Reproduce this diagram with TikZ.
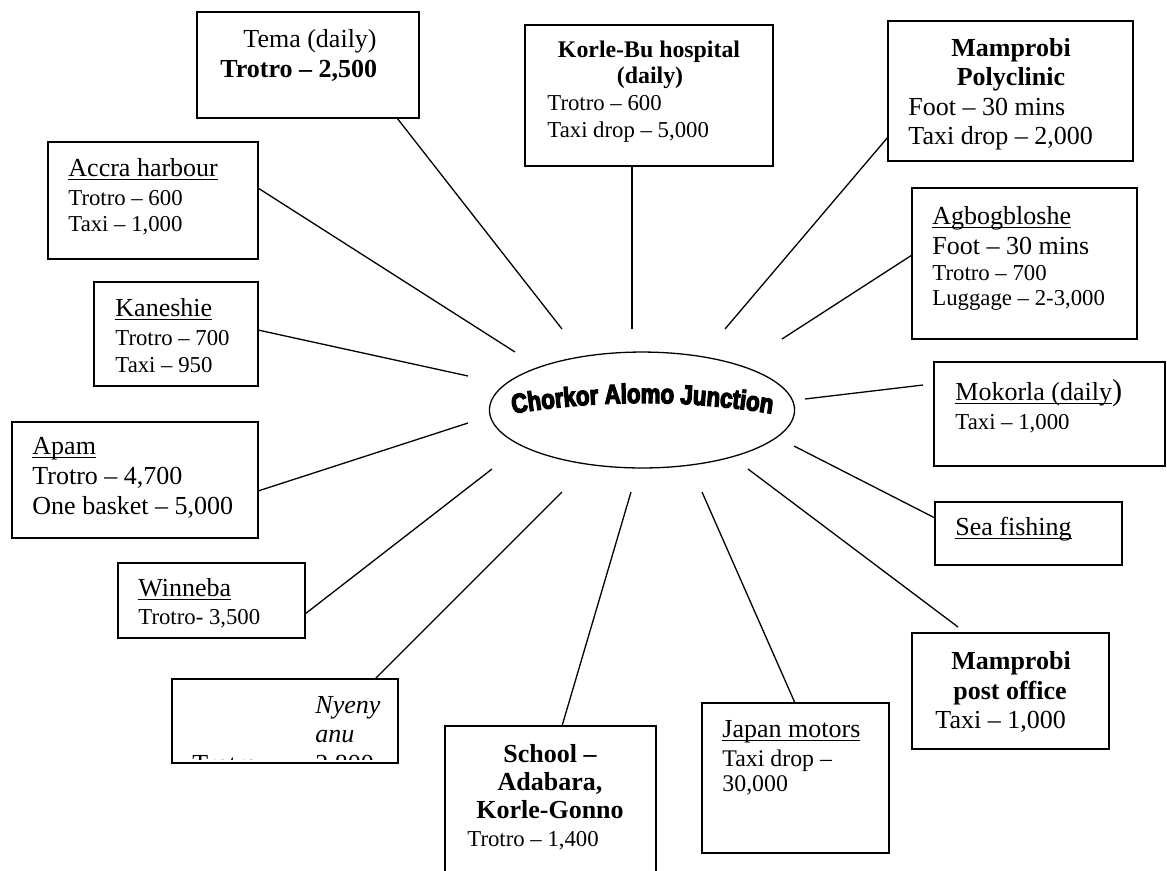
\documentclass[tikz,border=0pt]{standalone}
\usepackage{fontspec}
\setmainfont{Liberation Serif}
\newfontfamily\hubfont{Liberation Sans}[BoldFeatures={FakeBold=4.5,FakeStretch=0.82}]
\usetikzlibrary{shapes.geometric,decorations.text,fit}
% underline at a fixed depth below the baseline
\newcommand\undl[1]{\setbox0\hbox{#1}\rlap{\rule[-1.9pt]{\wd0}{0.55pt}}\box0}
\tikzset{
  destbox/.style={draw,line width=0.8pt,inner sep=0pt},
  spoke/.style={line width=0.6pt},
  txbig/.style={anchor=base west,inner sep=0pt,font=\fontsize{12}{14}\selectfont},
  txsmall/.style={anchor=base west,inner sep=0pt,font=\fontsize{10.5}{12.5}\selectfont},
  txhead/.style={anchor=base,inner sep=0pt,font=\fontsize{12}{14}\selectfont\bfseries},
}
\begin{document}
\begin{tikzpicture}[x=0.4615pt,y=-0.4615pt]
\useasboundingbox (0,0) rectangle (1167,870);

% central junction
\node[draw,ellipse,line width=0.6pt,inner sep=0pt,minimum width=140.8pt,minimum height=53.5pt] (hub) at (642,410) {};
\path[decorate,decoration={text along path,text align=center,
  text={|\hubfont\bfseries\fontsize{12.5}{14}\selectfont|Chorkor Alomo Junction}}]
  (505,415) .. controls (596,399) and (688,399) .. (780,415);

% Tema
\node[destbox,fit={(197,12) (419,118)}] (tema) {};
\node[txbig] (tema-a) at (243,47) {Tema (daily)};
\node[txbig,font=\fontsize{12}{14}\selectfont\bfseries] (tema-b) at (220,77) {Trotro -- 2,500};
\coordinate (tema-out) at (397,118);
\coordinate (tema-in) at (562,329);

% Korle-Bu hospital
\node[destbox,fit={(525,25) (773,166)}] (korlebu) {};
\node[txhead,font=\fontsize{11}{13}\selectfont\bfseries] (kb-a) at (649,57) {Korle-Bu hospital};
\node[txhead,font=\fontsize{11}{13}\selectfont\bfseries] (kb-b) at (650,83) {(daily)};
\node[txsmall] (kb-c) at (547,110) {Trotro -- 600};
\node[txsmall] (kb-d) at (547,137) {Taxi drop -- 5,000};
\coordinate (kb-out) at (632,166);
\coordinate (kb-in) at (632,329);

% Mamprobi Polyclinic
\node[destbox,fit={(888,21) (1133,161)}] (polyclinic) {};
\node[txhead] (pc-a) at (1011,56) {Mamprobi};
\node[txhead] (pc-b) at (1011,85) {Polyclinic};
\node[txbig] (pc-c) at (908,115) {Foot -- 30 mins};
\node[txbig] (pc-d) at (908,144) {Taxi drop -- 2,000};
\coordinate (pc-out) at (888,137);
\coordinate (pc-in) at (725,329);

% Agbogbloshe
\node[destbox,fit={(912,188) (1137,339)}] (agbog) {};
\node[txbig] (ag-a) at (932,224) {\undl{Agbogbloshe}};
\node[txbig] (ag-b) at (932,254) {Foot -- 30 mins};
\node[txsmall] (ag-c) at (932,280) {Trotro -- 700};
\node[txsmall] (ag-d) at (932,305) {Luggage -- 2-3,000};
\coordinate (ag-out) at (912,255);
\coordinate (ag-in) at (782,339);

% Mokorla
\node[destbox,fit={(934,362) (1165,466)}] (mokorla) {};
\node[txbig] (mk-a) at (955,400) {\undl{Mokorla (daily}{\fontsize{14}{14}\selectfont)}};
\node[txsmall] (mk-b) at (955,429) {Taxi -- 1,000};
\coordinate (mk-out) at (923,385);
\coordinate (mk-in) at (805,399);

% Sea fishing
\node[destbox,fit={(935,502) (1122,565)}] (sea) {};
\node[txbig] (sea-a) at (955,535) {\undl{Sea fishing}};
\coordinate (sea-out) at (935,518);
\coordinate (sea-in) at (794,446);

% Mamprobi post office
\node[destbox,fit={(912,633) (1109,749)}] (postoffice) {};
\node[txhead] (po-a) at (1011,669) {Mamprobi};
\node[txhead] (po-b) at (1010,699) {post office};
\node[txbig] (po-c) at (935,728) {Taxi -- 1,000};
\coordinate (po-out) at (958,627);
\coordinate (po-in) at (748,469);

% Japan motors
\node[destbox,fit={(702,703) (889,853)}] (japan) {};
\node[txbig] (jp-a) at (722,737) {\undl{Japan motors}};
\node[txsmall,font=\fontsize{11}{13}\selectfont] (jp-b) at (722,766) {Taxi drop --};
\node[txsmall,font=\fontsize{11}{13}\selectfont] (jp-c) at (722,791) {30,000};
\coordinate (jp-out) at (795,703);
\coordinate (jp-in) at (702,492);

% School
\node[destbox,fit={(445,726) (656,885)}] (school) {};
\node[txhead] (sc-a) at (550,762) {School --};
\node[txhead] (sc-b) at (550,790) {Adabara,};
\node[txhead] (sc-c) at (550,818) {Korle-Gonno};
\node[txsmall] (sc-d) at (467,846) {Trotro -- 1,400};
\coordinate (sc-out) at (562,726);
\coordinate (sc-in) at (631,492);

% Nyenyanu (text runs past the bottom of its box)
\node[destbox,fit={(172,679) (398,763)}] (nyenyanu) {};
\begin{scope}
  \clip (172,679) rectangle (398,759);
  \node[txbig,font=\fontsize{12}{14}\selectfont\itshape] (ny-a) at (315,713) {Nyeny};
  \node[txbig,font=\fontsize{12}{14}\selectfont\itshape] (ny-b) at (315,742) {anu};
  \node[txbig] (ny-c) at (192,772) {Trotro};
  \node[txbig] (ny-d) at (290,772) {--};
  \node[txbig] (ny-e) at (315,772) {2,800};
\end{scope}
\coordinate (ny-out) at (375,679);
\coordinate (ny-in) at (562,492);

% Winneba
\node[destbox,fit={(118,563) (305,638)}] (winneba) {};
\node[txbig] (wn-a) at (138,596) {\undl{Winneba}};
\node[txsmall] (wn-b) at (138,624) {Trotro- 3,500};
\coordinate (wn-out) at (305,614);
\coordinate (wn-in) at (492,469);

% Apam
\node[destbox,fit={(12,422) (258,538)}] (apam) {};
\node[txbig] (ap-a) at (32,454) {\undl{Apam}};
\node[txbig] (ap-b) at (32,484) {Trotro -- 4,700};
\node[txbig] (ap-c) at (32,514) {One basket -- 5,000};
\coordinate (ap-out) at (258,491);
\coordinate (ap-in) at (468,423);

% Kaneshie
\node[destbox,fit={(94,282) (258,386)}] (kaneshie) {};
\node[txbig] (ka-a) at (115,316) {\undl{Kaneshie}};
\node[txsmall] (ka-b) at (115,345) {Trotro -- 700};
\node[txsmall] (ka-c) at (115,372) {Taxi -- 950};
\coordinate (ka-out) at (258,330);
\coordinate (ka-in) at (468,376);

% Accra harbour
\node[destbox,fit={(48,142) (258,259)}] (accra) {};
\node[txbig] (ac-a) at (68,176) {\undl{Accra harbour}};
\node[txsmall] (ac-b) at (68,205) {Trotro -- 600};
\node[txsmall] (ac-c) at (68,231) {Taxi -- 1,000};
\coordinate (ac-out) at (258,188);
\coordinate (ac-in) at (515,352);

% spokes
\foreach \s in {tema,kb,pc,ag,mk,sea,po,jp,sc,ny,wn,ap,ka,ac}
  \draw[spoke] (\s-out) -- (\s-in);
\end{tikzpicture}
\end{document}
